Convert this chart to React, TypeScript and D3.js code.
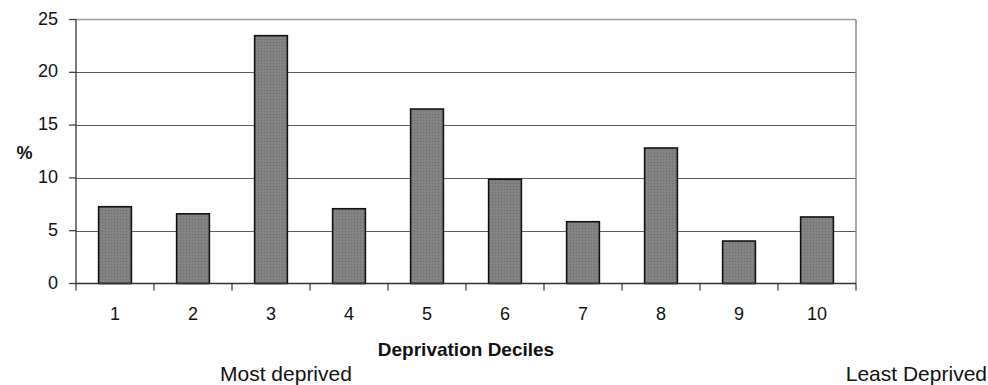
import React from "react";
import * as d3 from "d3";

const categories = ["1", "2", "3", "4", "5", "6", "7", "8", "9", "10"];
const values = [7.27, 6.6, 23.47, 7.08, 16.52, 9.87, 5.85, 12.83, 4.02, 6.3];
const yTicks = [0, 5, 10, 15, 20, 25];
const xTitle = "Deprivation Deciles";
const yTitle = "%";
const leftNote = "Most deprived";
const rightNote = "Least Deprived";

export default function App() {
  const W = 988, H = 385;
  const left = 76, right = 856, top = 19.5, bottom = 283.5;
  const x = d3.scaleBand<string>().domain(categories).range([left, right]).paddingInner(0.58).paddingOuter(0.29);
  const y = d3.scaleLinear().domain([0, 25]).range([bottom, top]);
  const step = (right - left) / categories.length;
  const font = "'Liberation Sans', Arial, sans-serif";
  return (
    <svg width={W} height={H} style={{ position: "absolute", left: 0, top: 0, background: "#fff" }} fontFamily={font}>
      <defs>
        <pattern id="dots" width="3" height="3" patternUnits="userSpaceOnUse">
          <rect width="3" height="3" fill="#818181" />
          <rect x="0" y="0" width="1" height="1" fill="#6e6e6e" />
          <rect x="1.5" y="1.5" width="1" height="1" fill="#8e8e8e" />
        </pattern>
      </defs>
      {/* gridlines */}
      {yTicks.filter(t => t > 0 && t < 25).map(t => (
        <line key={t} x1={left} x2={right} y1={Math.round(y(t)) + 0.5} y2={Math.round(y(t)) + 0.5} stroke="#5a5a5a" strokeWidth={1} />
      ))}
      {/* plot border top/right */}
      <line x1={left} x2={right} y1={top} y2={top} stroke="#9a9a9a" strokeWidth={1.5} />
      <line x1={right} x2={right} y1={top} y2={bottom} stroke="#8a8a8a" strokeWidth={1.5} />
      {/* bars */}
      {categories.map((c, i) => (
        <rect key={c} x={x(c)!} y={y(values[i])} width={x.bandwidth()} height={bottom - y(values[i])}
          fill="url(#dots)" stroke="#111" strokeWidth={1.6} />
      ))}
      {/* y axis */}
      <line x1={left} x2={left} y1={top} y2={bottom} stroke="#333" strokeWidth={1.3} />
      {yTicks.map(t => (
        <g key={t}>
          <line x1={left - 7} x2={left} y1={y(t)} y2={y(t)} stroke="#333" strokeWidth={1.2} />
          <text x={58} y={y(t) - 1} textAnchor="end" dominantBaseline="central" fontSize={18} fill="#111">{t}</text>
        </g>
      ))}
      {/* x axis */}
      <line x1={left} x2={right} y1={bottom} y2={bottom} stroke="#333" strokeWidth={1.3} />
      {d3.range(categories.length + 1).map(i => (
        <line key={i} x1={left + i * step} x2={left + i * step} y1={bottom} y2={bottom + 7} stroke="#333" strokeWidth={1.2} />
      ))}
      {categories.map(c => (
        <text key={c} x={x(c)! + x.bandwidth() / 2} y={320} textAnchor="middle" fontSize={18} fill="#111">{c}</text>
      ))}
      <text x={(left + right) / 2} y={356} textAnchor="middle" fontSize={19} fontWeight="bold" fill="#111">{xTitle}</text>
      <text x={24.5} y={153} textAnchor="middle" dominantBaseline="central" fontSize={18} fontWeight="bold" fill="#111">{yTitle}</text>
      <text x={220} y={381} textAnchor="start" fontSize={21} fill="#111">{leftNote}</text>
      <text x={987} y={381} textAnchor="end" fontSize={21} fill="#111">{rightNote}</text>
    </svg>
  );
}
